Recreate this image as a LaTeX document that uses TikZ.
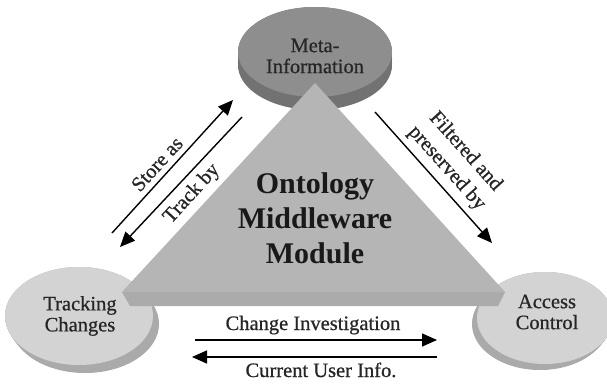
\documentclass[tikz,border=0pt]{standalone}
\usepackage{fontspec}
\setmainfont{Liberation Serif}
\newfontfamily\lblfont{Liberation Serif}[FakeBold=0.7]
\usetikzlibrary{arrows.meta,calc}
\definecolor{metaface}{HTML}{8E8E8E}
\definecolor{metaside}{HTML}{727272}
\definecolor{diskface}{HTML}{D3D3D3}
\definecolor{diskside}{HTML}{AAAAAA}
\definecolor{triface}{HTML}{B5B5B5}
\definecolor{triband}{HTML}{ABABAB}
\begin{document}
\begin{tikzpicture}[x=1pt,y=-1pt,
  lbl/.style={font=\lblfont\fontsize{20.5}{21}\selectfont, align=center, inner sep=0pt, text=black!85},
  widelbl/.style={lbl, font=\lblfont\fontsize{20.5}{25}\selectfont},
  bigl/.style={font=\bfseries\fontsize{30}{35}\selectfont, align=center, inner sep=0pt, text=black!90},
  arr/.style={line width=1.4pt, -{Triangle[length=15pt,width=13pt]}}]
\useasboundingbox (0,0) rectangle (607,383);
\fill[white] (0,0) rectangle (607,383);

% top disk
\foreach \s in {0,0.1,...,1.01}
  \fill[metaside] (315,52+13*\s) ellipse[x radius=77, y radius=45];
\fill[metaface] (315,52) ellipse[x radius=77, y radius=45];

% left disk
\foreach \s in {0,0.1,...,1.01}
  \fill[diskside] (79+6*\s,316+8*\s) ellipse[x radius=74, y radius=49];
\fill[diskface] (79,316) ellipse[x radius=74, y radius=49];

% right disk
\foreach \s in {0,0.1,...,1.01}
  \fill[diskside] (545-5*\s,318+6*\s) ellipse[x radius=68, y radius=46];
\fill[diskface] (545,318) ellipse[x radius=68, y radius=46];

% triangle
\fill[triband] (122,292) -- (130,306) -- (498,306) -- (505,292) -- cycle;
\fill[triface] (315,83) -- (122,292) -- (505,292) -- cycle;

% labels
\node[lbl] (meta) at (315,56) {Meta-\\Information};
\node[lbl] (track) at (80,316) {Tracking\\Changes};
\node[lbl] (access) at (547,312) {Access\\Control};
\node[bigl] (omm) at (315,218) {Ontology\\Middleware\\Module};

% diagonal arrows left
\coordinate (sa1) at (112,233); \coordinate (sa2) at (233,100);
\coordinate (tb1) at (242,117); \coordinate (tb2) at (120,247);
\draw[arr] (sa1) -- (sa2);
\draw[arr] (tb1) -- (tb2);
\node[lbl, rotate=47.7] (storeas) at (157,164) {Store as};
\node[lbl, rotate=47.7] (trackby) at (192,194) {Track by};

% diagonal arrow right
\coordinate (fp1) at (375,112); \coordinate (fp2) at (492,243);
\draw[arr] (fp1) -- (fp2);
\node[widelbl, rotate=-48.2] (filt) at (456,160) {Filtered and\\preserved by};

% bottom arrows
\coordinate (ci1) at (195,340); \coordinate (ci2) at (437,340);
\coordinate (cu1) at (437,357); \coordinate (cu2) at (192,357);
\draw[arr] (ci1) -- (ci2);
\draw[arr] (cu1) -- (cu2);
\node[lbl, anchor=base] (ci) at (313,330) {Change Investigation};
\node[lbl, anchor=base] (cu) at (321,377) {Current User Info.};
\end{tikzpicture}
\end{document}
